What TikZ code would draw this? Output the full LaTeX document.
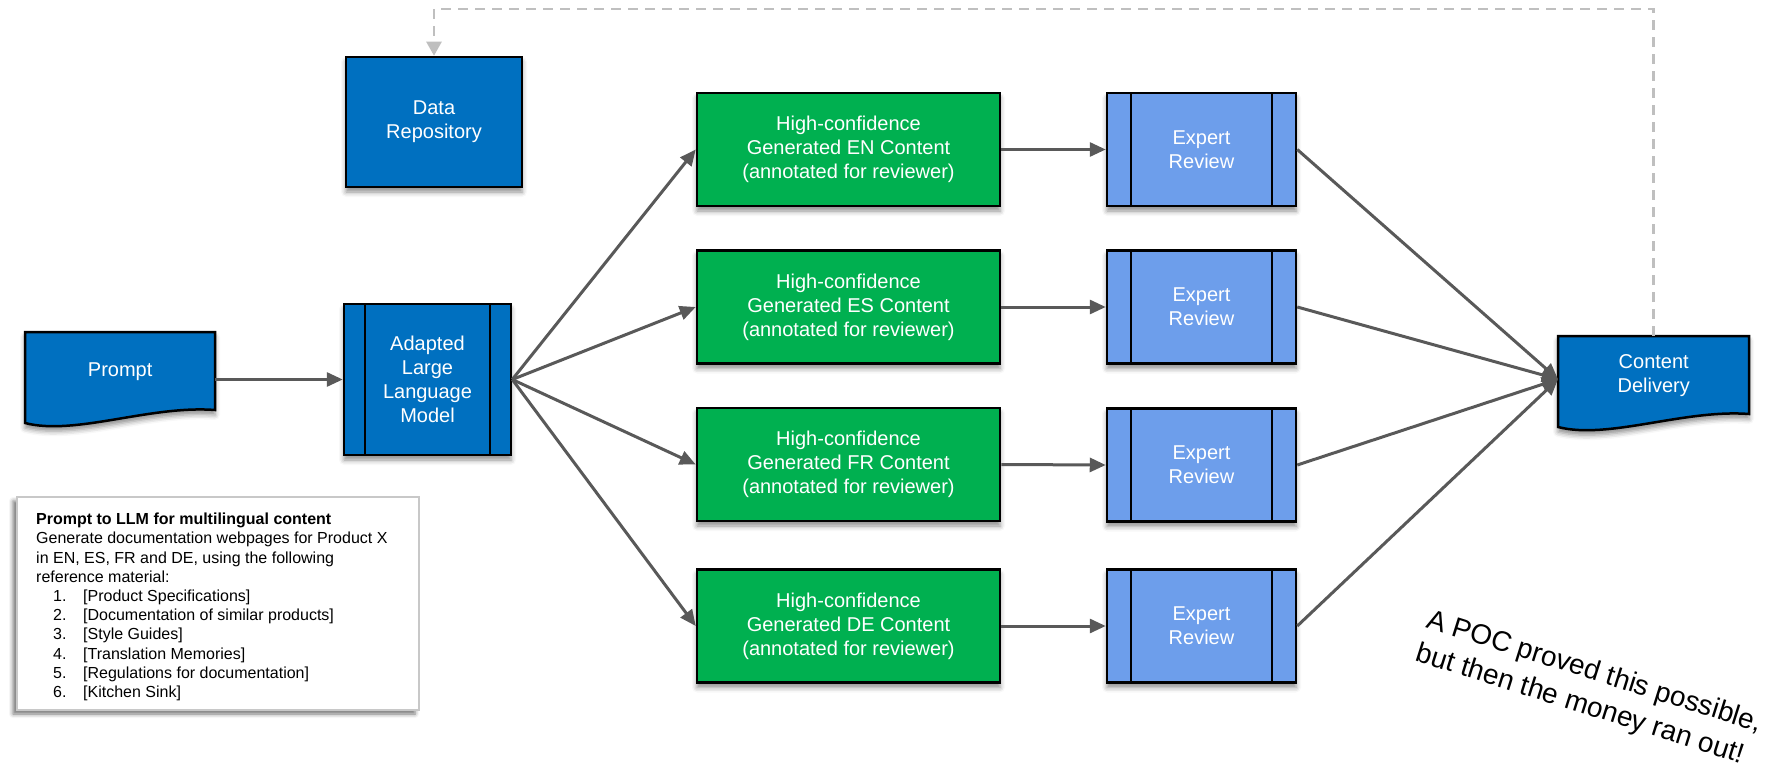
\documentclass[tikz,border=0pt]{standalone}
\usepackage{fontspec}
\setmainfont{Liberation Sans}
\usetikzlibrary{arrows.meta,shadows.blur,calc}

\definecolor{procblue}{HTML}{0070C0}
\definecolor{gengreen}{HTML}{00B050}
\definecolor{revblue}{HTML}{6D9EEB}
\definecolor{flowgray}{HTML}{595959}
\definecolor{loopgray}{HTML}{BFBFBF}
\definecolor{noteedge}{HTML}{C8C8C8}

\begin{document}
\begin{tikzpicture}[x=1pt,y=-1pt,
  boxshadow/.style={blur shadow={shadow xshift=0pt,shadow yshift=-5pt,
      shadow blur radius=5pt,shadow opacity=45}},
  boxbase/.style={draw=black,line width=2.5pt,text=white,align=center,
      inner sep=0pt,font=\fontsize{20}{24}\selectfont,boxshadow},
  sidebars/.style={path picture={
      \draw[black,line width=2.5pt]
        ([xshift=#1]path picture bounding box.north west) --
        ([xshift=#1]path picture bounding box.south west)
        ([xshift=-#1]path picture bounding box.north east) --
        ([xshift=-#1]path picture bounding box.south east);}},
  repobox/.style={boxbase,fill=procblue,minimum width=176pt,minimum height=130pt},
  modelbox/.style={boxbase,fill=procblue,minimum width=167pt,minimum height=151pt,sidebars=21pt},
  genbox/.style={boxbase,fill=gengreen,minimum width=303pt,minimum height=113pt},
  reviewbox/.style={boxbase,fill=revblue,minimum width=189pt,minimum height=113pt,sidebars=24pt},
  docbox/.style={draw=none,fill=none,text=white,align=center,inner sep=0pt,anchor=north west,
      font=\fontsize{20}{24}\selectfont,minimum width=190pt,minimum height=78pt},
  docoutline/.style={fill=procblue,draw=black,line width=2.5pt,boxshadow},
  flow/.style={draw=flowgray,line width=3pt,-{Triangle[length=16pt,width=14pt]}},
  loopback/.style={draw=loopgray,line width=2.5pt,dash pattern=on 10pt off 7pt,
      -{Triangle[length=14pt,width=15pt]}},
  notebox/.style={draw=noteedge,line width=1.5pt,fill=white,minimum width=402pt,
      minimum height=213pt,inner sep=0pt,
      blur shadow={shadow xshift=-4pt,shadow yshift=-4pt,shadow blur radius=4pt,shadow opacity=55}},
  notetext/.style={inner sep=0pt,anchor=base west,text=black},
  remark/.style={inner sep=0pt,anchor=base west,rotate=-17.5,text=black,
      font=\fontsize{28}{35}\selectfont}
]
\useasboundingbox (0,0) rectangle (1791,778);

% document shapes: straight top and sides, wavy lower edge
\coordinate (promptTL) at (25,332);
\coordinate (cdTL) at (1558,336);
\path[docoutline] (promptTL) -- ($(promptTL)+(190,0)$) -- ($(promptTL)+(190,78)$)
  .. controls ($(promptTL)+(125,73)$) and ($(promptTL)+(50,104)$)
  .. ($(promptTL)+(0,91)$) -- cycle;
\path[docoutline] (cdTL) -- ($(cdTL)+(191,0)$) -- ($(cdTL)+(191,78)$)
  .. controls ($(cdTL)+(126,73)$) and ($(cdTL)+(50,104)$)
  .. ($(cdTL)+(0,91)$) -- cycle;

% ---- nodes ----
\node[repobox] (repo) at (434,122) {Data\\Repository};
\node[docbox] (prompt) at (promptTL) {Prompt};
\node[modelbox] (llm) at (427.5,379.5) {Adapted\\Large\\Language\\Model};

\node[genbox] (gEN) at (848.5,149.5) {High-confidence\\Generated EN Content\\(annotated for reviewer)};
\node[genbox] (gES) at (848.5,307) {High-confidence\\Generated ES Content\\(annotated for reviewer)};
\node[genbox] (gFR) at (848.5,464.5) {High-confidence\\Generated FR Content\\(annotated for reviewer)};
\node[genbox] (gDE) at (848.5,626) {High-confidence\\Generated DE Content\\(annotated for reviewer)};

\node[reviewbox] (rEN) at (1201.5,149.5) {Expert\\Review};
\node[reviewbox] (rES) at (1201.5,307) {Expert\\Review};
\node[reviewbox] (rFR) at (1201.5,465) {Expert\\Review};
\node[reviewbox] (rDE) at (1201.5,626) {Expert\\Review};

\node[docbox,minimum width=191pt] (cd) at (cdTL) {Content\\Delivery};

% prompt note
\node[notebox] (note) at (218,603.5) {};
\node[notetext] (notebody) at (36,524.7) {\parbox[t]{380pt}{%
  \fontsize{16}{19.2}\selectfont\setlength{\parindent}{0pt}%
  \textbf{Prompt to LLM for multilingual content}\\
  Generate documentation webpages for Product X\\
  in EN, ES, FR and DE, using the following\\
  reference material:\\
  \hspace*{17pt}\makebox[30pt][l]{1.}[Product Specifications]\\
  \hspace*{17pt}\makebox[30pt][l]{2.}[Documentation of similar products]\\
  \hspace*{17pt}\makebox[30pt][l]{3.}[Style Guides]\\
  \hspace*{17pt}\makebox[30pt][l]{4.}[Translation Memories]\\
  \hspace*{17pt}\makebox[30pt][l]{5.}[Regulations for documentation]\\
  \hspace*{17pt}\makebox[30pt][l]{6.}[Kitchen Sink]}};

% slanted remark
\node[remark] (poc) at (1425,627) {\parbox[t]{420pt}{\raggedright
  A POC proved this possible,\\but then the money ran out!}};

% ---- connectors ----
\coordinate (looptop) at (1000,9);
\coordinate (cdin) at ([yshift=-4pt]cd.west);

\draw[flow] (prompt.east |- llm.west) -- (llm.west);
\foreach \g in {gEN,gES,gFR,gDE}
  \draw[flow] (llm.east) -- (\g.west);
\foreach \l in {EN,ES,FR,DE}{
  \draw[flow] (g\l.east) -- (r\l.west);
  \draw[flow] (r\l.east) -- (cdin);
}
\draw[loopback] (cd.north) |- (repo.north |- looptop) -- (repo.north);
\end{tikzpicture}
\end{document}
